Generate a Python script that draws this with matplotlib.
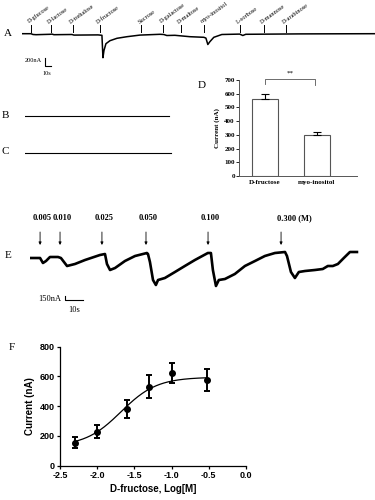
import matplotlib
matplotlib.use("Agg")
import matplotlib.pyplot as plt
import numpy as np

# ---- data ----

# panel A: response trace (time s, current nA) and sugar application times
a_time = [0, 15, 18.4, 23.4, 46.8, 50.1, 53.4, 83.5, 86.8, 127, 133.6, 135.3, 137,
          140.3, 147, 158.7, 175.4, 197, 230.5, 237, 242, 255.5, 280.6, 304, 307.4,
          310.6, 314, 320.6, 334, 364, 369, 374, 464, 590]
a_current = [0, 0, -20, -25, -15, -10, -25, -20, -35, -30, -40, -600, -420,
             -250, -175, -115, -75, -35, -15, -20, -45, -40, -75, -90, -110,
             -270, -200, -90, -20, -10, -45, -15, -5, 0]
a_sugars = ["D-glucose", "D-lactose", "D-trehalose", "D-fructose", "Sucrose",
            "D-galactose", "D-maltose", "myo-inositol", "L-sorbose", "D-mannose",
            "D-arabinose"]
a_sugar_times = [15, 48, 85, 130, 199, 235.5, 265.5, 304, 364, 404, 441]

# panels B, C: flat traces
b_time = [0, 240]
b_current = [0, 0]
c_time = [0, 243]
c_current = [0, 0]

# panel D: bar chart
d_labels = ["D-fructose", "myo-inositol"]
d_values = [560, 300]
d_err = [40, 20]

# panel E: dose trace
e_time = [0, 5.6, 7.2, 8.9, 11.1, 15.6, 17.2, 20.6, 25, 30.6, 38.9, 41.7, 42.8, 44.5,
          47.3, 52.8, 58.4, 65, 65.6, 66.7, 68.4, 70, 71.2, 75, 80.6, 86.1, 91.7,
          98.9, 100.6, 101.7, 103.4, 105, 108.4, 113.9, 119.5, 125.1, 130.6, 136.2,
          141.8, 142.9, 145.1, 147.3, 149.5, 152.9, 158.4, 162.8, 165.6, 168.4,
          171.2, 174.5, 177.9, 181.8]
e_current = [0, 0, -200, -120, 40, 40, 0, -320, -240, -80, 120, 160, -240, -480,
             -400, -120, 80, 200, 160, -160, -880, -1080, -880, -800, -560, -320, -80,
             200, 200, -480, -1120, -880, -840, -640, -320, -120, 80, 200,
             240, 80, -560, -800, -560, -520, -480, -440, -320, -320,
             -240, 0, 240, 240]
e_doses = ["0.005", "0.010", "0.025", "0.050", "0.100", "0.300 (M)"]
e_dose_times = [5.6, 16.7, 40, 64.5, 99, 139.6]

# panel F: dose-response
f_logc = [-2.3, -2.0, -1.6, -1.3, -1.0, -0.52]
f_mean = [155, 229, 379, 531, 621, 576]
f_sem = [35, 42, 60, 76, 68, 73]
# fitted sigmoid parameters
fit_bottom, fit_top, fit_logec50, fit_hill = 130, 595, -1.68, 1.8

W, H = 375, 500
serif = "Liberation Serif"
sans = "Liberation Sans"


def rect(x0, y0, x1, y1):
    return [x0 / W, 1 - y1 / H, (x1 - x0) / W, (y1 - y0) / H]


fig = plt.figure(figsize=(3.75, 5), dpi=100)

# panel letters
for letter, x, y in [("A", 8, 33), ("B", 5, 115), ("C", 5, 152), ("D", 202, 86),
                     ("E", 8, 255), ("F", 12, 347)]:
    fig.text(x / W, 1 - y / H, letter, family=serif, fontsize=8, ha="center", va="center")

# ---- A ----
axA = fig.add_axes(rect(22, 0, 375, 75))
axA.plot(a_time, a_current, color="black", lw=1.1)
axA.set_xlim(0, 590)
axA.set_ylim(-1032, 842)
axA.axis("off")
for name, t in zip(a_sugars, a_sugar_times):
    axA.plot([t, t], [45, 215], color="black", lw=0.7)
    axA.text(t - 2, 230, name, family=serif, fontsize=4.5, rotation=36,
             rotation_mode="anchor", ha="left", va="bottom")
axA.plot([38.4, 38.4, 48.4], [-610, -810, -810], color="black", lw=0.8, clip_on=False)
axA.text(33, -680, "200nA", family=serif, fontsize=4.5, ha="right", va="center")
axA.text(42, -990, "10s", family=serif, fontsize=4.5, ha="center", va="center")

# ---- B, C ----
axB = fig.add_axes(rect(25, 106, 175, 126))
axB.plot(b_time, b_current, color="black", lw=0.8)
axB.set_xlim(0, 250)
axB.set_ylim(-1, 1)
axB.axis("off")
axC = fig.add_axes(rect(25, 143, 175, 163))
axC.plot(c_time, c_current, color="black", lw=0.8)
axC.set_xlim(0, 250)
axC.set_ylim(-1, 1)
axC.axis("off")

# ---- D ----
axD = fig.add_axes(rect(239, 80, 357, 176))
xpos = np.arange(len(d_labels))
axD.bar(xpos, d_values, width=0.5, color="white", edgecolor="#555555", lw=0.8)
axD.errorbar(xpos, d_values, yerr=[[0] * len(d_err), d_err], fmt="none",
             ecolor="black", elinewidth=0.8, capsize=3, capthick=0.8)
axD.set_xlim(-0.5, 1.77)
axD.set_ylim(0, 700)
axD.set_yticks(range(0, 701, 100))
axD.set_xticks(xpos)
axD.set_xticklabels(d_labels)
for s in ["top", "right"]:
    axD.spines[s].set_visible(False)
for s in ["left", "bottom"]:
    axD.spines[s].set_linewidth(0.7)
    axD.spines[s].set_color("#555555")
axD.tick_params(axis="y", length=2, width=0.6, pad=1, labelsize=5)
axD.tick_params(axis="x", length=0, pad=3, labelsize=5)
for lab in axD.get_xticklabels() + axD.get_yticklabels():
    lab.set_family(serif)
    lab.set_fontweight("bold")
axD.set_ylabel("Current (nA)", family=serif, fontsize=5, fontweight="bold", labelpad=3)
axD.plot([0, 0, 0.96, 0.96], [670, 707, 707, 665], color="#555555", lw=0.6, clip_on=False)
axD.text(0.48, 735, "**", family=serif, fontsize=5, ha="center", va="bottom")

# ---- E ----
axE = fig.add_axes(rect(30, 210, 360, 315))
axE.plot(e_time, e_current, color="black", lw=1.9, solid_joinstyle="round")
axE.set_xlim(0, 183.5)
axE.set_ylim(-2280, 1920)
axE.axis("off")
for name, t in zip(e_doses, e_dose_times):
    axE.annotate("", xy=(t, 520), xytext=(t, 1040),
                 arrowprops=dict(arrowstyle="-|>", color="black", lw=0.6,
                                 mutation_scale=4, shrinkA=0, shrinkB=0))
    if name.endswith("(M)"):
        axE.text(t - 2, 1600, name, family=serif, fontsize=6, fontweight="bold",
                 ha="left", va="center")
    else:
        axE.text(t + 1, 1600, name, family=serif, fontsize=6, fontweight="bold",
                 ha="center", va="center")
axE.plot([19.5, 19.5, 29.5], [-1530, -1680, -1680], color="black", lw=0.8, clip_on=False)
axE.text(17.5, -1640, "150nA", family=serif, fontsize=6, ha="right", va="center")
axE.text(24.5, -2080, "10s", family=serif, fontsize=6, ha="center", va="center")

# ---- F ----
axF = fig.add_axes(rect(60, 346.7, 246, 465.7))
xfit = np.linspace(min(f_logc), max(f_logc), 200)
yfit = fit_bottom + (fit_top - fit_bottom) / (1 + 10 ** ((fit_logec50 - xfit) * fit_hill))
axF.plot(xfit, yfit, color="black", lw=0.9)
axF.errorbar(f_logc, f_mean, yerr=f_sem, fmt="o", color="black", ms=4,
             elinewidth=1.4, capsize=2.5, capthick=1.4)
axF.set_xlim(-2.5, 0)
axF.set_ylim(0, 800)
axF.set_xticks(np.arange(-2.5, 0.01, 0.5))
axF.set_xticklabels(["-2.5", "-2.0", "-1.5", "-1.0", "-0.5", "0.0"])
axF.set_yticks(range(0, 801, 200))
for s in ["top", "right"]:
    axF.spines[s].set_visible(False)
for s in ["left", "bottom"]:
    axF.spines[s].set_linewidth(0.9)
axF.tick_params(length=2.5, width=0.9, pad=1.5, labelsize=6.5)
for lab in axF.get_xticklabels() + axF.get_yticklabels():
    lab.set_family(sans)
    lab.set_fontweight("bold")
axF.set_xlabel("D-fructose, Log[M]", family=sans, fontsize=7, fontweight="bold", labelpad=3)
axF.set_ylabel("Current (nA)", family=sans, fontsize=7, fontweight="bold", labelpad=3)

fig.savefig("out.png", dpi=100)
